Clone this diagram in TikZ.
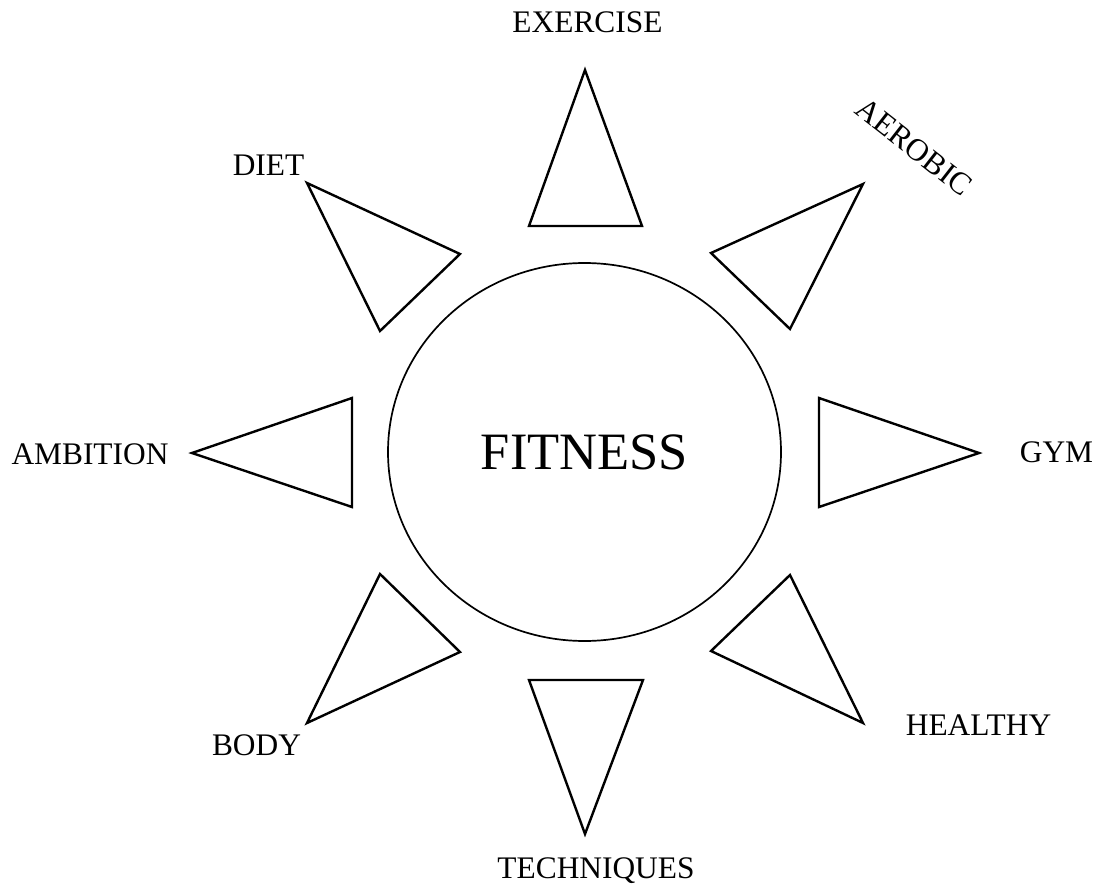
\documentclass[tikz,border=0pt]{standalone}
\usepackage{fontspec}
\setmainfont{Liberation Serif}
\usetikzlibrary{shapes.geometric}
\begin{document}
\begin{tikzpicture}[x=1pt,y=-1pt,
  ray/.style={draw=black, line width=2.4pt, line join=miter},
  lbl/.style={inner sep=0pt, font=\fontsize{31.4}{36}\selectfont, anchor=base},
  hub/.style={draw=black, line width=1.7pt, ellipse, inner sep=0pt, minimum width=393pt, minimum height=378pt, font=\fontsize{52.5}{60}\selectfont}]
\useasboundingbox (0,0) rectangle (1100,893);
\fill[white] (0,0) rectangle (1100,893);
% centre
\node[hub] (fit) at (584.5,452) {FITNESS};
% rays
\draw[ray] (585,70) -- (642,226) -- (529,226) -- cycle;
\draw[ray] (863,184) -- (790,329) -- (711,253) -- cycle;
\draw[ray] (979,453) -- (819,507) -- (819,398) -- cycle;
\draw[ray] (863,723) -- (711,651) -- (790,575) -- cycle;
\draw[ray] (585,834) -- (529,680) -- (643,680) -- cycle;
\draw[ray] (307,723) -- (380,574) -- (460,652) -- cycle;
\draw[ray] (192,453) -- (352,398) -- (352,507) -- cycle;
\draw[ray] (307,183) -- (460,254) -- (380,331) -- cycle;
% labels
\node[lbl] (exercise) at (587.5,33) {EXERCISE};
\node[inner sep=0pt, font=\fontsize{31.4}{36}\selectfont, rotate=-38] (aerobic) at (914,147) {AEROBIC};
\node[lbl] (gym) at (1056.5,462) {GYM};
\node[lbl] (healthy) at (978.5,735) {HEALTHY};
\node[lbl] (techniques) at (596,878) {TECHNIQUES};
\node[lbl] (body) at (256.5,755) {BODY};
\node[lbl] (ambition) at (90,464) {AMBITION};
\node[lbl] (diet) at (268.5,176) {DIET};
\end{tikzpicture}
\end{document}
